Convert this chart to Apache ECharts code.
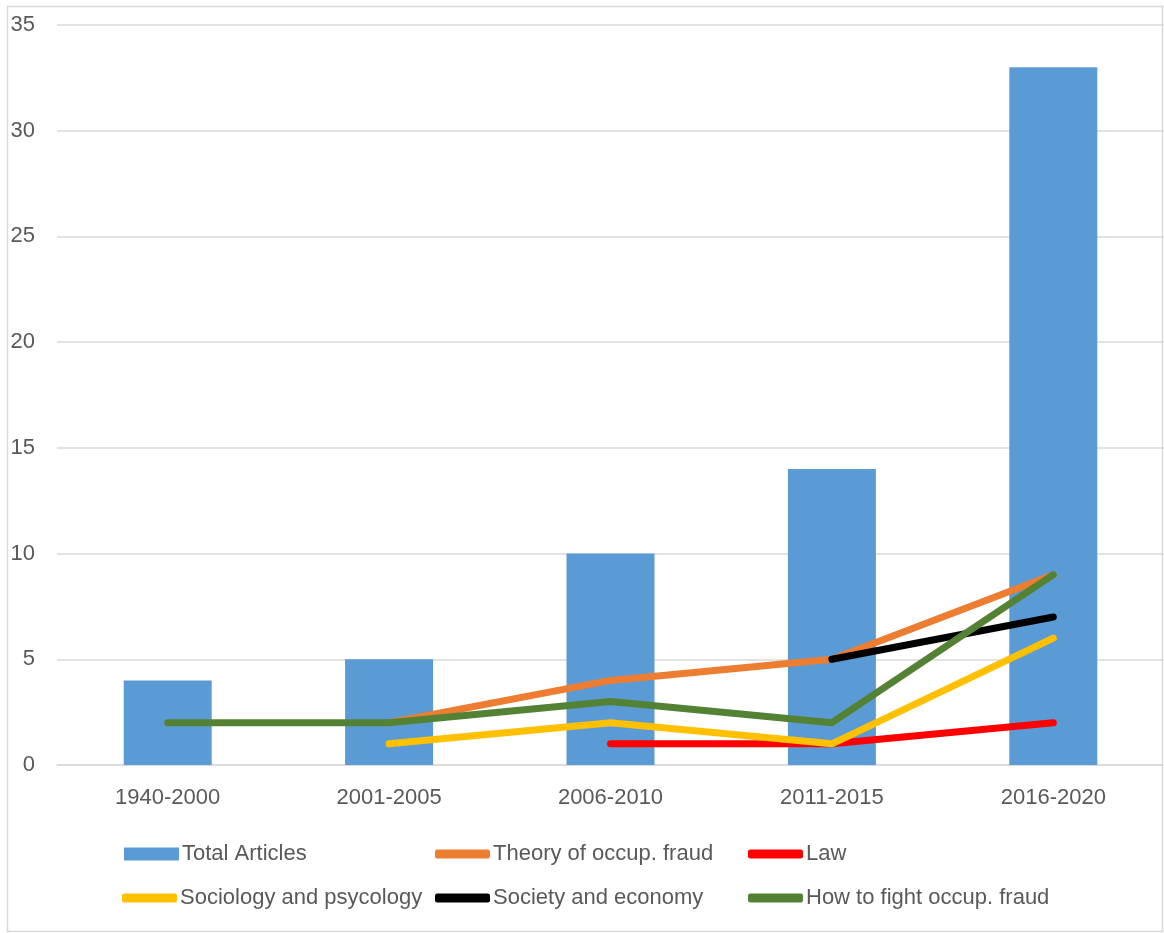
<!DOCTYPE html>
<html>
<head>
<meta charset="utf-8">
<script src="https://cdn.jsdelivr.net/npm/echarts@6/dist/echarts.min.js"></script>
<style>
  html, body { margin: 0; padding: 0; background: #fff; }
  #chart { width: 1164px; height: 933px; }
</style>
</head>
<body>
<div id="chart"></div>
<script>
var periods = ['1940-2000', '2001-2005', '2006-2010', '2011-2015', '2016-2020'];
var totalArticles = [4, 5, 10, 14, 33];
var theory = [null, 2, 4, 5, 9];
var law = [null, null, 1, 1, 2];
var sociology = [null, 1, 2, 1, 6];
var society = [null, null, null, 5, 7];
var fight = [2, 2, 3, 2, 9];

var textColor = '#595959';
var gridColor = '#D9D9D9';
var font = 'Liberation Sans, Arial, sans-serif';

(function () {
  var chart = echarts.init(document.getElementById('chart'), null, { renderer: 'canvas' });

  function lineSeries(name, data, color) {
    return {
      name: name,
      type: 'line',
      data: data,
      symbol: 'none',
      connectNulls: false,
      itemStyle: { color: color },
      lineStyle: { color: color, width: 7, cap: 'round', join: 'round' },
      z: 3
    };
  }

  function legendAt(name, left, top, icon, h) {
    return {
      data: [{ name: name, icon: icon }],
      left: left,
      top: top,
      itemWidth: 55,
      itemHeight: h,
      itemGap: 0,
      padding: 0,
      selectedMode: false,
      textStyle: { color: textColor, fontSize: 22, fontFamily: font, padding: [0, 0, 0, -2] }
    };
  }

  chart.setOption({
    animation: false,
    backgroundColor: '#fff',
    textStyle: { fontFamily: font },
    graphic: [{
      type: 'rect',
      shape: { x: 7.5, y: 6.5, width: 1155, height: 925 },
      style: { fill: 'none', stroke: gridColor, lineWidth: 1.5 },
      silent: true
    }],
    grid: { left: 57, right: 0, top: 25, bottom: 168 },
    legend: [
      legendAt('Total Articles', 124, 843, 'rect', 13),
      legendAt('Theory of occup. fraud', 435, 843, 'roundRect', 9),
      legendAt('Law', 748, 843, 'roundRect', 9),
      legendAt('Sociology and psycology', 122, 887, 'roundRect', 9),
      legendAt('Society and economy', 435, 887, 'roundRect', 9),
      legendAt('How to fight occup. fraud', 748, 887, 'roundRect', 9)
    ],
    xAxis: {
      type: 'category',
      data: periods,
      axisTick: { show: false },
      axisLine: { lineStyle: { color: gridColor, width: 1.5 } },
      axisLabel: { color: textColor, fontSize: 22, fontFamily: font, margin: 22 }
    },
    yAxis: {
      type: 'value',
      min: 0,
      max: 35,
      interval: 5,
      axisLine: { show: false },
      axisTick: { show: false },
      splitLine: { lineStyle: { color: gridColor, width: 1.5 } },
      axisLabel: { color: textColor, fontSize: 22, fontFamily: font, margin: 22 }
    },
    series: [
      {
        name: 'Total Articles',
        type: 'bar',
        data: totalArticles,
        barWidth: 88,
        itemStyle: { color: '#5B9BD5' },
        z: 2
      },
      lineSeries('Theory of occup. fraud', theory, '#ED7D31'),
      lineSeries('Law', law, '#FF0000'),
      lineSeries('Sociology and psycology', sociology, '#FFC000'),
      lineSeries('Society and economy', society, '#000000'),
      lineSeries('How to fight occup. fraud', fight, '#548235')
    ]
  });
})();
</script>
</body>
</html>
